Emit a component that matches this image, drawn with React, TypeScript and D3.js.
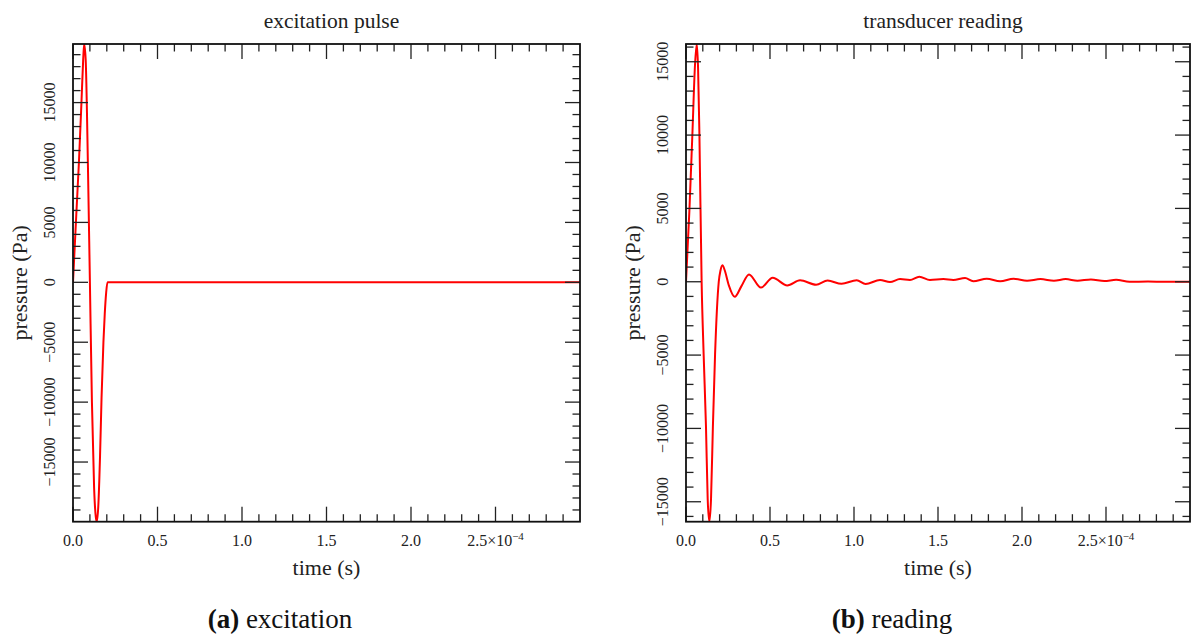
import React from "react";
import * as d3 from "d3";

// time in units of 1e-4 s, pressure in Pa
const excitationTime = [0, 0.01, 0.02, 0.035, 0.05, 0.06, 0.066, 0.075, 0.088, 0.1, 0.112, 0.125, 0.135, 0.141, 0.15, 0.16, 0.169, 0.18, 0.188, 0.196, 0.204, 3.0];
const excitationPressure = [0, 2900, 5800, 10000, 15000, 18500, 19890, 18600, 10000, 0, -10000, -17200, -19600, -19980, -18600, -14500, -9600, -5000, -2600, -900, 0, 0];

const readingTime = [0, 0.02, 0.0375, 0.054, 0.064, 0.072, 0.08, 0.093, 0.105, 0.119, 0.129, 0.139, 0.149, 0.16, 0.173, 0.195, 0.205, 0.217, 0.23, 0.255, 0.29, 0.33, 0.375, 0.446, 0.516, 0.603, 0.679, 0.774, 0.843, 0.926, 1.016, 1.069, 1.155, 1.214, 1.274, 1.333, 1.389, 1.452, 1.532, 1.591, 1.661, 1.71, 1.79, 1.87, 1.95, 2.03, 2.11, 2.19, 2.26, 2.33, 2.41, 2.49, 2.56, 2.64, 2.75, 2.85, 3.0];
const readingPressure = [0, 4800, 9900, 14860, 16210, 14500, 9900, 0, -4950, -9900, -14800, -16360, -14800, -9900, -4950, 0, 750, 1130, 800, -250, -1030, -300, 500, -400, 270, -250, 100, -200, 80, -140, 100, -150, 120, -20, 180, 115, 340, 115, 180, 115, 250, 30, 200, 30, 200, 70, 180, 70, 180, 70, 160, 50, 130, 0, 10, 0, 0];

const xMajorTicks = [0, 0.5, 1.0, 1.5, 2.0, 2.5];
const xTickLabels = ["0.0", "0.5", "1.0", "1.5", "2.0", "2.5"];
const yMajorTicks = [-15000, -10000, -5000, 0, 5000, 10000, 15000];
const yTickLabels = ["\u221215000", "\u221210000", "\u22125000", "0", "5000", "10000", "15000"];

const titles = ["excitation pulse", "transducer reading"];
const captionTags = ["(a)", "(b)"];
const captionTexts = ["excitation", "reading"];

const FONT = "'Liberation Serif', 'Times New Roman', serif";

type PanelProps = {
  x0: number; x1: number; y0: number; y1: number;
  times: number[]; values: number[];
  title: string; tag: string; caption: string; captionX: number; id: string;
};

function Panel({ x0, x1, y0, y1, times, values, title, tag, caption, captionX, id }: PanelProps) {
  const x = d3.scaleLinear().domain([0, 3.0]).range([x0, x1]);
  const yExt = d3.extent(values) as [number, number];
  const y = d3.scaleLinear().domain(yExt).range([y1, y0]);
  const pts = times.map((t, i) => [t, values[i]] as [number, number]);
  const line = d3.line<[number, number]>().x(d => x(d[0])).y(d => y(d[1])).curve(d3.curveMonotoneX);

  const xMinor = d3.range(1, 30).map(i => i / 10).filter(v => Math.abs(v * 2 - Math.round(v * 2)) > 1e-6);
  const yMinor = d3.range(Math.ceil(yExt[0] / 1000), Math.floor(yExt[1] / 1000) + 1).map(v => v * 1000).filter(v => v % 5000 !== 0);
  const MAJ = 15, MIN = 7.5;
  const cx = (x0 + x1) / 2;

  return (
    <g>
      <defs>
        <clipPath id={id}><rect x={x0} y={y0} width={x1 - x0} height={y1 - y0} /></clipPath>
      </defs>
      <path d={line(pts) || ""} fill="none" stroke="#ff0000" strokeWidth={2} clipPath={`url(#${id})`} />
      {/* ticks */}
      <g stroke="#222" strokeWidth={1.3}>
        {xMajorTicks.map(t => (
          <g key={"xm" + t}>
            <line x1={x(t)} x2={x(t)} y1={y1} y2={y1 - MAJ} />
            <line x1={x(t)} x2={x(t)} y1={y0} y2={y0 + MAJ} />
          </g>
        ))}
        {xMinor.map(t => (
          <g key={"xn" + t}>
            <line x1={x(t)} x2={x(t)} y1={y1} y2={y1 - MIN} />
            <line x1={x(t)} x2={x(t)} y1={y0} y2={y0 + MIN} />
          </g>
        ))}
        {yMajorTicks.map(v => (
          <g key={"ym" + v}>
            <line x1={x0} x2={x0 + MAJ} y1={y(v)} y2={y(v)} />
            <line x1={x1} x2={x1 - MAJ} y1={y(v)} y2={y(v)} />
          </g>
        ))}
        {yMinor.map(v => (
          <g key={"yn" + v}>
            <line x1={x0} x2={x0 + MIN} y1={y(v)} y2={y(v)} />
            <line x1={x1} x2={x1 - MIN} y1={y(v)} y2={y(v)} />
          </g>
        ))}
      </g>
      <rect x={x0} y={y0} width={x1 - x0} height={y1 - y0} fill="none" stroke="#111" strokeWidth={1.8} />
      {/* tick labels */}
      <g fontFamily={FONT} fontSize={16} fill="#222">
        {xMajorTicks.map((t, i) => (
          <text key={"xl" + t} x={x(t)} y={546} textAnchor="middle">
            {i === xMajorTicks.length - 1 ? (
              <>
                <tspan>{xTickLabels[i]}×10</tspan>
                <tspan dy={-6} fontSize={11}>{"\u22124"}</tspan>
              </>
            ) : xTickLabels[i]}
          </text>
        ))}
        {yMajorTicks.map((v, i) => (
          <text key={"yl" + v} transform={`translate(${x0 - 18},${y(v)}) rotate(-90)`} textAnchor="middle">
            {yTickLabels[i]}
          </text>
        ))}
      </g>
      <text x={cx} y={575} textAnchor="middle" fontFamily={FONT} fontSize={22} fill="#222">time (s)</text>
      <text transform={`translate(${x0 - 46},${(y0 + y1) / 2}) rotate(-90)`} textAnchor="middle" fontFamily={FONT} fontSize={22} fill="#222">pressure (Pa)</text>
      <text x={cx + 5} y={28} textAnchor="middle" fontFamily={FONT} fontSize={21.5} fill="#222">{title}</text>
      <text x={captionX} y={628} textAnchor="middle" fontFamily={FONT} fontSize={27} fill="#111">
        <tspan fontWeight="bold">{tag}</tspan>
        <tspan> {caption}</tspan>
      </text>
    </g>
  );
}

export default function App() {
  return (
    <svg width={1192} height={637} style={{ position: "absolute", left: 0, top: 0, background: "#fff" }}>
      <rect width={1192} height={637} fill="#fff" />
      <Panel id="clipA" x0={73} x1={580} y0={44} y1={521.7} times={excitationTime} values={excitationPressure}
        title={titles[0]} tag={captionTags[0]} caption={captionTexts[0]} captionX={280} />
      <Panel id="clipB" x0={686} x1={1190} y0={44} y1={521.7} times={readingTime} values={readingPressure}
        title={titles[1]} tag={captionTags[1]} caption={captionTexts[1]} captionX={892} />
    </svg>
  );
}
